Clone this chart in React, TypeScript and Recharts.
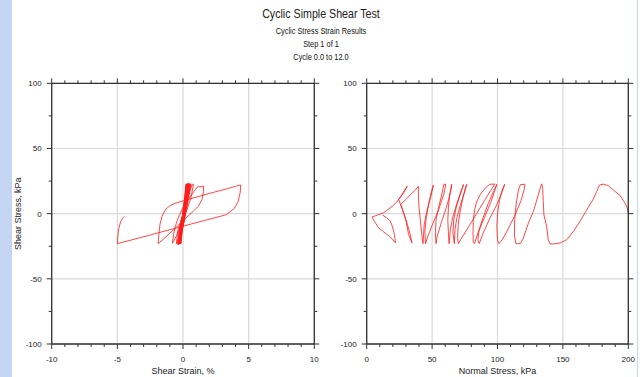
import React from 'react';
import { LineChart, Line, XAxis, YAxis, CartesianGrid } from 'recharts';

const titleText = 'Cyclic Simple Shear Test';
const subtitleLines = ['Cyclic Stress Strain Results', 'Step 1 of 1', 'Cycle 0.0 to 12.0'];

const strainTicks = [-10, -9, -8, -7, -6, -5, -4, -3, -2, -1, 0, 1, 2, 3, 4, 5, 6, 7, 8, 9, 10];
const strainMajor = [-10, -5, 0, 5, 10];
const normalTicks = [0, 10, 20, 30, 40, 50, 60, 70, 80, 90, 100, 110, 120, 130, 140, 150, 160, 170, 180, 190, 200];
const normalMajor = [0, 50, 100, 150, 200];
const stressTicks = [-100, -75, -50, -25, 0, 25, 50, 75, 100];
const stressMajor = [-100, -50, 0, 50, 100];

// Left plot: shear strain (%) vs shear stress (kPa), in time order
const strainValues = [
  0, 0.1, 0.22,
  0.15, 0, -0.1, -0.15,
  -0.08, 0.05, 0.18, 0.28,
  0.2, 0.05, -0.1, -0.2,
  -0.12, 0.05, 0.2, 0.32,
  0.22, 0.05, -0.12, -0.22,
  -0.14, 0.05, 0.25, 0.36,
  0.25, 0.06, -0.15, -0.26,
  -0.16, 0.07, 0.28, 0.4,
  0.28, 0.06, -0.18, -0.3,
  -0.2, 0.08, 0.32, 0.45,
  0.3, 0.05, -0.2, -0.33,
  -0.22, 0.1, 0.36, 0.5,
  0.33, 0.05, -0.22, -0.36,
  -0.25, 0.1, 0.4, 0.55,
  0.36, 0.05, -0.25, -0.4,
  -0.3, 0.1, 0.42, 0.6,
  0.4, 0.05, -0.3, -0.5,
  -0.4, 0, 0.4, 0.7, 0.8,
  0.6, 0.3, -0.1, -0.5, -0.8,
  -0.75, -0.62, -0.4, 0, 0.5, 0.9, 1.1, 1.58,
  1.56, 1.45, 1.2, 0.8, 0, -1.0, -1.6, -1.9,
  -1.85, -1.75, -1.6, -1.3, -1.0, -0.6, 0, 2, 3.5, 4.0, 4.4,
  4.35, 4.2, 3.9, 3.3, 0, -2.5, -5,
  -4.97, -4.9, -4.75, -4.6, -4.48,
];
const shearValuesA = [
  0, 10, 22.5,
  12, -5, -15, -22.8,
  -10, 5, 15, 22.8,
  10, -5, -17, -23,
  -10, 5, 16, 23,
  10, -6, -17, -23.2,
  -10, 5, 17, 23.2,
  10, -6, -17, -23.3,
  -10, 5, 17, 23.3,
  10, -6, -17, -23.5,
  -11, 5, 17, 23,
  10, -6, -17, -23.5,
  -11, 5, 17, 23,
  10, -7, -17, -23.8,
  -12, 4, 17, 23,
  10, -7, -17, -23.5,
  -12, 4, 16, 22.8,
  10, -7, -17, -23,
  -13, 0, 13, 22.5, 22.5,
  12, 3, -8, -17, -22.7,
  -18, -11, -4, 5, 12, 18, 20.5, 21,
  17, 11, 6, 2, -5.5, -15, -20.5, -23,
  -17, -8, -2, 3.5, 6, 8, 9.8, 15.5, 19.5, 21, 22,
  16, 9.3, 4, -0.8, -9.6, -16.4, -23,
  -18, -12, -6, -3.5, -2.2,
];

// Right plot: normal stress (kPa) vs shear stress (kPa), in time order
const normalValues = [
  200, 199, 197.5, 193.7, 188.5, 184.7, 181, 178, 175.8, 173.3, 168.2, 163, 158, 152.9, 147.8, 143, 140.1,
  138.8, 137.6, 135.5, 135, 134.5, 133.8,
  133, 131.2, 127.4, 123.6, 119.7, 117.5, 114,
  113, 113, 113.4, 114.5, 116, 117.5, 121,
  120.5, 118, 113, 107, 103, 101,
  100, 99.5, 100, 101.5, 103.5, 105.5,
  104, 100, 94, 89, 86,
  85, 86, 89, 93, 97, 99.5,
  98, 95, 90, 85, 82.5, 81.5,
  81.3, 81.5, 82.5, 84, 87, 91, 94, 98,
  95, 90, 84, 78, 73, 70,
  69.5, 70, 71.5, 73.5, 75.5, 76.5,
  75, 72, 69, 67.5, 67,
  66, 66.5, 68.5, 71.5, 74,
  72.5, 69, 66, 64, 63,
  62.5, 62, 62.5, 63.5, 65,
  64, 61, 57, 54, 53,
  52.5, 53, 55, 57.5, 59, 60.5,
  59, 55, 50, 46.5, 45,
  44.5, 45.5, 47.5, 49.5, 51,
  49, 46, 44, 43,
  42, 41, 40, 39.5, 39.5,
  37, 31, 26, 28.5, 30, 32, 34.6,
  33, 31, 29, 27, 24.4, 28.3, 31,
  29, 26, 23, 20, 13, 7, 4, 6, 9, 13, 17, 20, 22,
  21.5, 20.6, 19, 18, 15, 12,
];
const shearValuesB = [
  0, 5, 8, 13.9, 18.2, 21.5, 22.6, 22, 17, 11.3, 2.9, -6, -13.7, -20, -22.6, -23.2, -23.2,
  -20, -10, -1, 9.3, 19.5, 22.8,
  20.8, 14.4, 1.6, -7.3, -18.8, -23, -23,
  -17, -8, -1, 9, 18, 22.3, 22.5,
  19, 10, -2, -14, -21, -23,
  -20, -10, 0, 10, 18, 22.5,
  18, 8, -4, -15, -23,
  -20, -12, -3, 8, 17, 22.5,
  18, 9, -3, -15, -22.8, -22,
  -15, -5, 3, 9, 15, 20, 22.5, 22.7,
  18, 10, 0, -10, -18, -23,
  -18, -8, 2, 12, 20, 22.5,
  17, 8, -3, -12, -23,
  -15, -5, 5, 15, 22.3,
  18, 8, -2, -12, -23,
  -15, -5, 5, 15, 22.5,
  16, 5, -7, -17, -23,
  -15, -5, 5, 15, 22.5, 22.5,
  15, 3, -9, -18, -23,
  -14, -3, 8, 17, 22,
  13, 2, -8, -23,
  -15, -5, 5, 15, 21,
  18, 12, 7, 0, -5, -16, -22.4,
  -15, -8, -2, 4, 10.9, 16, 21,
  18, 13, 9, 6, 0.7, -1.5, -2.6, -6, -10.7, -14, -17, -20, -22.4,
  -18, -13.3, -8, -5.6, -3, -1,
];

const strainData = strainValues.map((v, i) => ({ x: v, y: shearValuesA[i] }));
const normalData = normalValues.map((v, i) => ({ x: v, y: shearValuesB[i] }));

const FONT = '"Liberation Sans", Arial, sans-serif';
const AXIS = '#333333';
const TICK_FONT = 8;

const mk = (majors: number[], side: 'bottom' | 'top' | 'left' | 'right', labels: boolean) => (props: any) => {
  const { x, y, payload } = props;
  const v = payload.value;
  const major = majors.includes(v);
  const len = major ? 5 : 3;
  let line;
  let text = null;
  if (side === 'bottom') {
    line = <line x1={x} y1={y} x2={x} y2={y + len} stroke={AXIS} strokeWidth={1} />;
    if (labels && major) text = <text x={x} y={y + 18} textAnchor="middle" fontSize={TICK_FONT} fontFamily={FONT} fill="#222">{v}</text>;
  } else if (side === 'top') {
    line = <line x1={x} y1={y} x2={x} y2={y - len} stroke={AXIS} strokeWidth={1} />;
  } else if (side === 'left') {
    line = <line x1={x} y1={y} x2={x - len} y2={y} stroke={AXIS} strokeWidth={1} />;
    if (labels && major) text = <text x={x - 10} y={y + 3} textAnchor="end" fontSize={TICK_FONT} fontFamily={FONT} fill="#222">{v}</text>;
  } else {
    line = <line x1={x} y1={y} x2={x + len} y2={y} stroke={AXIS} strokeWidth={1} />;
  }
  return <g>{line}{text}</g>;
};

type PanelProps = {
  data: { x: number; y: number }[];
  xDomain: [number, number];
  xTicks: number[];
  xMajor: number[];
  xLabel: string;
  yLabel?: string;
  width: number;
  marginLeft: number;
  marginRight: number;
};

function Panel({ data, xDomain, xTicks, xMajor, xLabel, yLabel, width, marginLeft, marginRight }: PanelProps) {
  const axisLine = { stroke: AXIS, strokeWidth: 1.3 };
  return (
    <LineChart width={width} height={377} data={data} margin={{ top: 73.3, right: marginRight, bottom: 0, left: marginLeft }}>
      <CartesianGrid xAxisId="b" yAxisId="l" stroke="#d9d9d9" strokeWidth={1.2}
        verticalValues={xMajor} horizontalValues={stressMajor} />
      <XAxis xAxisId="b" dataKey="x" type="number" domain={xDomain} ticks={xTicks} interval={0}
        allowDataOverflow height={33} tickSize={0} tickMargin={0} tickLine={false} axisLine={axisLine}
        tick={mk(xMajor, 'bottom', true)}
        label={{ value: xLabel, position: 'insideBottom', offset: 3, fontSize: 9, fontFamily: FONT, fill: '#222' }} />
      <XAxis xAxisId="t" orientation="top" dataKey="x" type="number" domain={xDomain} ticks={xTicks} interval={0}
        allowDataOverflow height={10} tickSize={0} tickMargin={0} tickLine={false} axisLine={axisLine}
        tick={mk(xMajor, 'top', false)} />
      <YAxis yAxisId="l" type="number" domain={[-100, 100]} ticks={stressTicks} interval={0}
        allowDataOverflow width={40} tickSize={0} tickMargin={0} tickLine={false} axisLine={axisLine}
        tick={mk(stressMajor, 'left', true)}
        label={yLabel ? { value: yLabel, angle: -90, position: 'insideLeft', offset: 6.5, fontSize: 9, fontFamily: FONT, fill: '#222', style: { textAnchor: 'middle' } } : undefined} />
      <YAxis yAxisId="r" orientation="right" type="number" domain={[-100, 100]} ticks={stressTicks} interval={0}
        allowDataOverflow width={10} tickSize={0} tickMargin={0} tickLine={false} axisLine={axisLine}
        tick={mk(stressMajor, 'right', false)} />
      <Line xAxisId="b" yAxisId="l" dataKey="y" type="linear" stroke="#ff1a1a" strokeOpacity={0.8}
        strokeWidth={1} dot={false} isAnimationActive={false} />
    </LineChart>
  );
}

export default function App() {
  return (
    <div style={{ position: 'absolute', left: 0, top: 0, width: 642, height: 377, background: '#ffffff', overflow: 'hidden', fontFamily: FONT }}>
      <div style={{ position: 'absolute', left: 0, top: 0, width: 12, height: 377, background: '#c4d6f3' }} />
      <div style={{ position: 'absolute', left: 637, top: 0, width: 1, height: 377, background: '#c8d6ec' }} />
      <div style={{ position: 'absolute', left: 0, top: 6, width: 642, textAlign: 'center', fontSize: 13, color: '#222', lineHeight: '16px', transform: 'scaleX(0.82)', transformOrigin: '321px 0' }}>{titleText}</div>
      {subtitleLines.map((s, i) => (
        <div key={s} style={{ position: 'absolute', left: 0, top: 25 + i * 13, width: 642, textAlign: 'center', fontSize: 9, color: '#111', lineHeight: '12px', transform: 'scaleX(0.82)', transformOrigin: '321px 0' }}>{s}</div>
      ))}
      <div style={{ position: 'absolute', left: 0, top: 0 }}>
        <Panel data={strainData} xDomain={[-10, 10]} xTicks={strainTicks} xMajor={strainMajor}
          xLabel="Shear Strain, %" yLabel="Shear Stress, kPa" width={330} marginLeft={11.7} marginRight={5.7} />
      </div>
      <div style={{ position: 'absolute', left: 314, top: 0 }}>
        <Panel data={normalData} xDomain={[0, 200]} xTicks={normalTicks} xMajor={normalMajor}
          xLabel="Normal Stress, kPa" width={328} marginLeft={12.7} marginRight={3.7} />
      </div>
    </div>
  );
}
